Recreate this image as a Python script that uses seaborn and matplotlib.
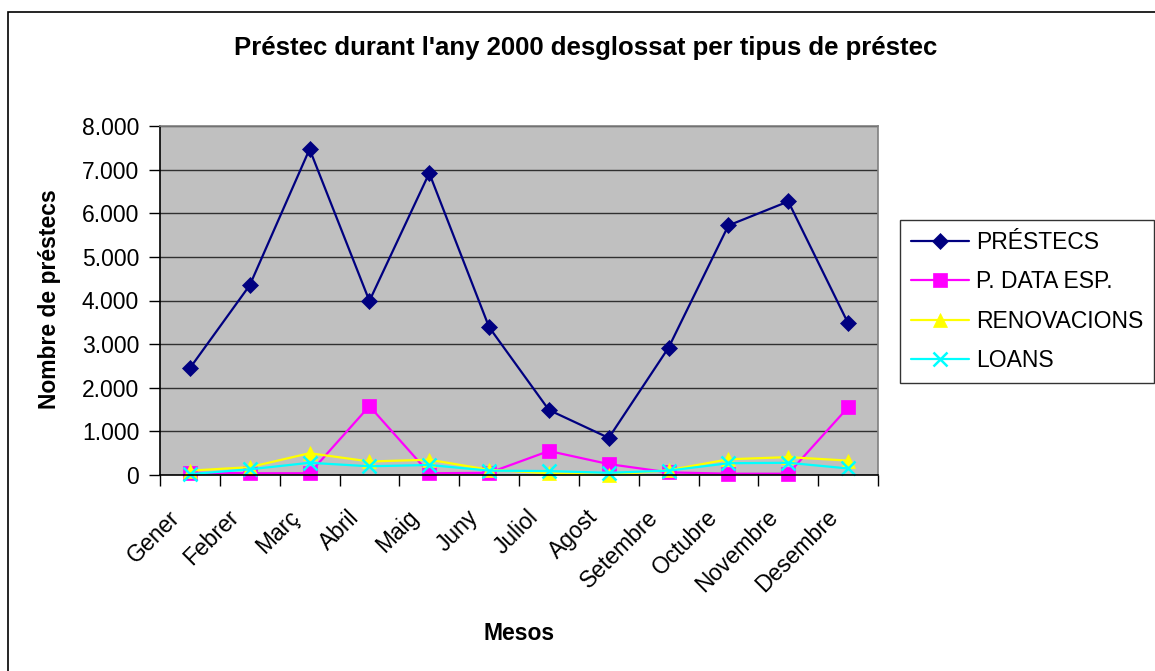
import matplotlib
matplotlib.use("Agg")
import matplotlib.pyplot as plt
import seaborn as sns
import pandas as pd
from matplotlib.ticker import FuncFormatter, FixedLocator
from matplotlib.patches import Rectangle
from matplotlib.transforms import ScaledTranslation

mesos = ["Gener", "Febrer", "Març", "Abril", "Maig", "Juny",
         "Juliol", "Agost", "Setembre", "Octubre", "Novembre", "Desembre"]
prestecs = [2450, 4350, 7470, 3990, 6920, 3390, 1490, 850, 2920, 5720, 6270, 3480]
data_esp = [50, 40, 40, 1580, 40, 50, 550, 250, 60, 30, 30, 1550]
renovacions = [100, 180, 500, 310, 350, 120, 40, 0, 110, 360, 410, 330]
loans = [20, 130, 280, 200, 230, 100, 90, 50, 100, 270, 280, 150]

series = ["PRÉSTECS", "P. DATA ESP.", "RENOVACIONS", "LOANS"]
valors = [prestecs, data_esp, renovacions, loans]
colors = ["#000080", "#FF00FF", "#FFFF00", "#00FFFF"]
markers = ["D", "s", "^", "x"]
msizes = [8, 10, 10, 10]

df = pd.DataFrame({"mes": range(len(mesos))})
for nom, v in zip(series, valors):
    df[nom] = v

sns.set_style("white")
plt.rcParams['font.family'] = ['Liberation Sans', 'DejaVu Sans']
plt.rcParams['text.color'] = 'black'
plt.rcParams['xtick.color'] = 'black'
plt.rcParams['ytick.color'] = 'black'

fig = plt.figure(figsize=(11.55, 6.71), dpi=100)
ax = fig.add_axes([160 / 1155, 1 - 475 / 671, 718 / 1155, 349 / 671])
ax.set_facecolor("#C0C0C0")

for nom, c, m, ms in zip(series, colors, markers, msizes):
    sns.lineplot(data=df, x="mes", y=nom, ax=ax, color=c, marker=m,
                 markersize=ms, markeredgecolor=c, markeredgewidth=1.8 if m == "x" else 0.5,
                 linewidth=1.6, label=nom, clip_on=False)

ax.set_xlim(-0.5, 11.5)
ax.set_ylim(0, 8000)
ax.yaxis.set_major_locator(FixedLocator(range(0, 8001, 1000)))
ax.yaxis.set_major_formatter(FuncFormatter(lambda v, p: f"{int(v):,}".replace(",", ".")))
ax.yaxis.grid(True, color="#303030", linewidth=1.0)
ax.set_axisbelow(True)

ax.xaxis.set_major_locator(FixedLocator([i - 0.5 for i in range(13)]))
ax.xaxis.set_major_formatter(FuncFormatter(lambda v, p: ""))
ax.set_xticks(range(12), minor=True)
ax.set_xticklabels(mesos, minor=True, rotation=45, ha="right", va="center",
                   rotation_mode="anchor", fontsize=16.5)
ax.tick_params(axis="x", which="minor", length=0, pad=28)
ax.tick_params(axis="x", which="major", direction="out", length=8, width=1, color="black", bottom=True)
ax.tick_params(axis="y", direction="out", length=8, width=1, color="black", left=True,
               labelsize=16.5, pad=7)
off = ScaledTranslation(-14 / 100, 0, fig.dpi_scale_trans)
for lab in ax.get_xticklabels(minor=True):
    lab.set_transform(lab.get_transform() + off)

for side in ["left", "bottom"]:
    ax.spines[side].set_color("black")
    ax.spines[side].set_linewidth(1.2)
for side in ["top", "right"]:
    ax.spines[side].set_color("#808080")
    ax.spines[side].set_linewidth(1.2)

ax.set_xlabel("")
ax.set_ylabel("")
fig.text(0.507, 1 - 48 / 671, "Préstec durant l'any 2000 desglossat per tipus de préstec",
         ha="center", va="center", fontsize=18.5, fontweight="bold")
fig.text(50 / 1155, 1 - 299 / 671, "Nombre de préstecs", rotation=90,
         ha="center", va="center", fontsize=16.5, fontweight="bold")
fig.text(519 / 1155, 1 - 633 / 671, "Mesos", ha="center", va="center",
         fontsize=16.5, fontweight="bold")

leg = ax.legend(loc="upper left", bbox_to_anchor=(900 / 1155, 1 - 220 / 671),
                bbox_transform=fig.transFigure, borderaxespad=0, fontsize=16.5,
                frameon=True, fancybox=False, edgecolor="black", handlelength=2.5,
                handletextpad=0.3, labelspacing=0.7, borderpad=0.5)
leg.get_frame().set_linewidth(1.0)

fig.patches.append(Rectangle((8 / 1155, -0.1), 1.2, 1 - 12 / 671 + 0.1,
                             transform=fig.transFigure, fill=False,
                             edgecolor="black", linewidth=1.2))

fig.savefig("out.png", dpi=100, facecolor="white")
